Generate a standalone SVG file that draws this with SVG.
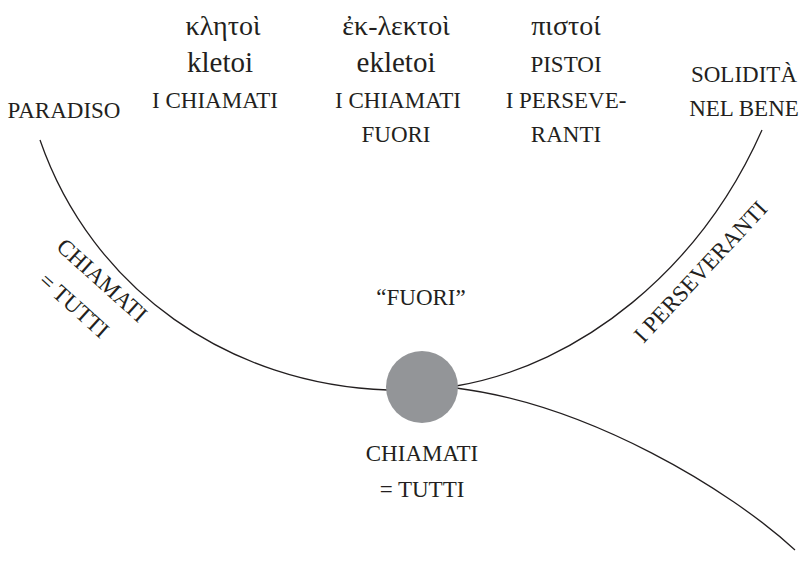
<svg xmlns="http://www.w3.org/2000/svg" width="804" height="561" viewBox="0 0 804 561">
<style>
text{font-family:'Liberation Serif','Times New Roman','DejaVu Serif',serif;fill:#231f20;text-anchor:middle}
.g{font-size:28px}
.l{font-size:29px}
.c{font-size:23px}
.line{fill:none;stroke:#231f20;stroke-width:1.3}
</style>
<rect width="804" height="561" fill="#fff"/>
<g id="connectors">
<path class="line" d="M40,140 C92,290 230,385 388,390"/>
<path class="line" d="M456,386 C580,365 700,270 762,130"/>
<path class="line" d="M456,388 C590,405 730,490 795,550"/>
</g>
<g id="node-center">
<circle cx="422" cy="387" r="36" fill="#939598"/>
<text class="c" x="421" y="305">“FUORI”</text>
<text class="c" x="422" y="461">CHIAMATI</text>
<text class="c" x="422" y="497">= TUTTI</text>
</g>
<g id="label-paradiso"><text class="c" x="64" y="118">PARADISO</text></g>
<g id="col-kletoi">
<text class="g" x="223" y="35">κλητοὶ</text>
<text class="l" x="220" y="72">kletoi</text>
<text class="c" x="215" y="108">I CHIAMATI</text>
</g>
<g id="col-ekletoi">
<text class="g" x="396" y="35">ἐκ-λεκτοὶ</text>
<text class="l" x="396" y="72">ekletoi</text>
<text class="c" x="398" y="108">I CHIAMATI</text>
<text class="c" x="396" y="142">FUORI</text>
</g>
<g id="col-pistoi">
<text class="g" x="566" y="35">πιστοί</text>
<text class="c" x="566" y="72">PISTOI</text>
<text class="c" x="566" y="108">I PERSEVE-</text>
<text class="c" x="566" y="142">RANTI</text>
</g>
<g id="label-solidita">
<text class="c" x="744" y="82">SOLIDITÀ</text>
<text class="c" x="744" y="116">NEL BENE</text>
</g>
<g id="label-chiamati-left">
<text class="c" transform="translate(97,286) rotate(42)">CHIAMATI</text>
<text class="c" transform="translate(69,311) rotate(42)">= TUTTI</text>
</g>
<g id="label-perseveranti">
<text class="c" transform="translate(706,277) rotate(-47)">I PERSEVERANTI</text>
</g>
</svg>
